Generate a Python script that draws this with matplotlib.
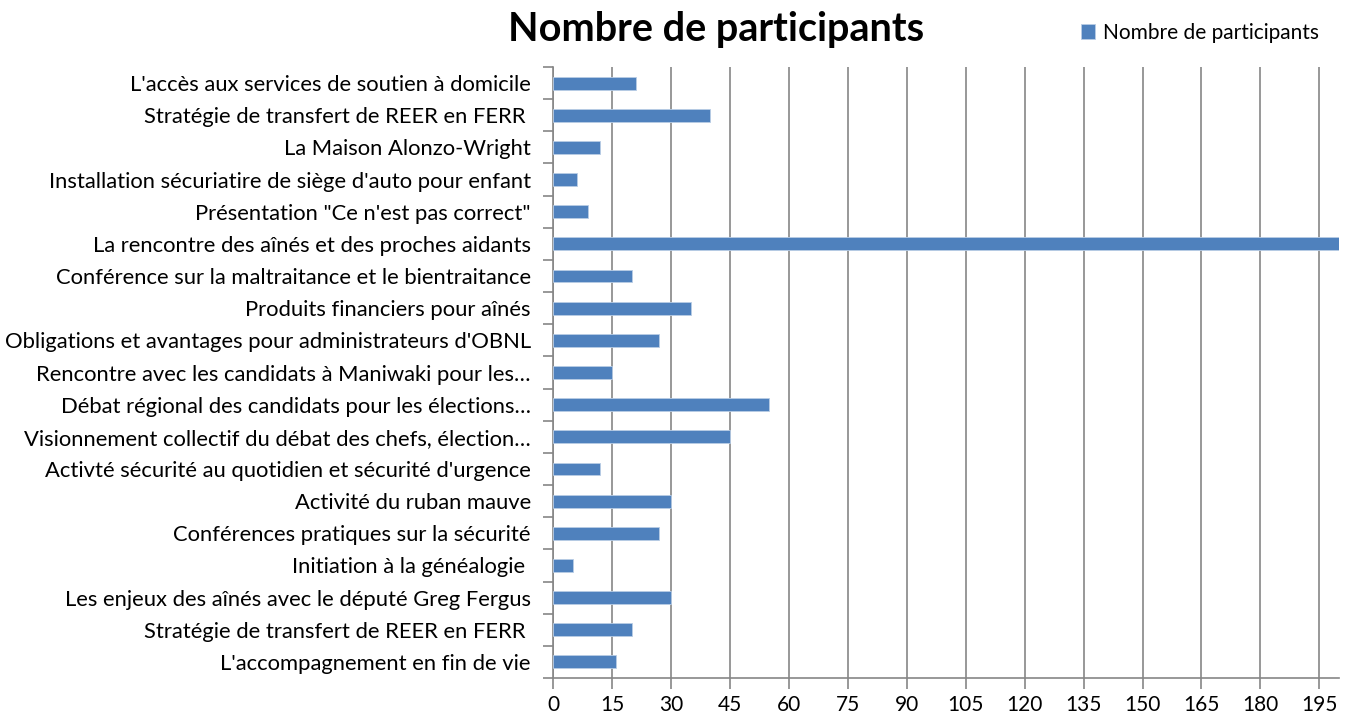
import numpy as np
import matplotlib.pyplot as plt

plt.rcParams["font.family"] = ["Lato", "DejaVu Sans"]

activities = [
    "L'accès aux services de soutien à domicile",
    "Stratégie de transfert de REER en FERR ",
    "La Maison Alonzo-Wright",
    "Installation sécuriatire de siège d'auto pour enfant",
    "Présentation \"Ce n'est pas correct\"",
    "La rencontre des aînés et des proches aidants",
    "Conférence sur la maltraitance et le bientraitance",
    "Produits financiers pour aînés",
    "Obligations et avantages pour administrateurs d'OBNL",
    "Rencontre avec les candidats à Maniwaki pour les…",
    "Débat régional des candidats pour les élections…",
    "Visionnement collectif du débat des chefs, élection…",
    "Activté sécurité au quotidien et sécurité d'urgence",
    "Activité du ruban mauve",
    "Conférences pratiques sur la sécurité",
    "Initiation à la généalogie ",
    "Les enjeux des aînés avec le député Greg Fergus",
    "Stratégie de transfert de REER en FERR ",
    "L'accompagnement en fin de vie",
]
participants = [21, 40, 12, 6, 9, 200, 20, 35, 27, 15, 55, 45, 12, 30, 27, 5, 30, 20, 16]
x_ticks = list(range(0, 200, 15))

fig = plt.figure(figsize=(13.47, 7.17), dpi=100)
ax = fig.add_axes([553 / 1347, 1 - 678 / 717, (1339 - 553) / 1347, (678 - 67) / 717])

y = np.arange(len(activities))[::-1]
ax.barh(y, participants, height=0.4, color="#4F81BD", edgecolor="#B9CDE5", linewidth=0.6, zorder=3)

ax.set_xlim(0, 200)
ax.set_ylim(-0.5, len(activities) - 0.5)
ax.set_xticks(x_ticks)
ax.set_yticks(y)
ax.set_yticklabels(activities, fontsize=15.8)
ax.set_yticks(np.arange(-0.5, len(activities), 1), minor=True)
ax.tick_params(axis="y", which="major", length=0, pad=16)
ax.tick_params(axis="y", which="minor", length=7, color="#868686", width=1.2)
ax.tick_params(axis="x", length=8, color="#868686", width=1.2, labelsize=15, pad=4)
ax.grid(axis="x", color="#868686", linewidth=1.2, zorder=0)

for side in ["top", "right"]:
    ax.spines[side].set_visible(False)
for side in ["left", "bottom"]:
    ax.spines[side].set_color("#868686")
    ax.spines[side].set_linewidth(1.2)

fig.text(716 / 1347, 1 - 30 / 717, "Nombre de participants", fontsize=28.5, fontweight="bold",
         ha="center", va="center")
ax.legend(["Nombre de participants"], loc="center left", bbox_to_anchor=(1062 / 1347, 1 - 33 / 717),
          bbox_transform=fig.transFigure, frameon=False, fontsize=15, handlelength=0.7,
          handleheight=0.7, handletextpad=0.35)

fig.savefig("out.png", dpi=100)
